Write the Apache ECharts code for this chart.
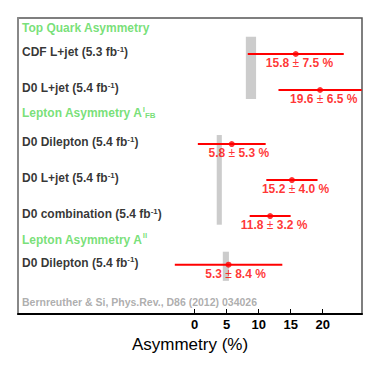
<!DOCTYPE html>
<html>
<head>
<meta charset="utf-8">
<script src="https://cdn.jsdelivr.net/npm/echarts@6/dist/echarts.min.js"></script>
<style>
  html, body { margin: 0; padding: 0; background: #fff; }
  #chart { width: 382px; height: 370px; }
</style>
</head>
<body>
<div id="chart"></div>
<script>
// measurements (one row each)
const experiments = ['CDF L+jet', 'D0 L+jet', 'D0 Dilepton', 'D0 L+jet', 'D0 combination', 'D0 Dilepton'];
const lumis = ['5.3', '5.4', '5.4', '5.4', '5.4', '5.4'];
const centralValues = [15.8, 19.6, 5.8, 15.2, 11.8, 5.3];
const errors = [7.5, 6.5, 5.3, 4.0, 3.2, 8.4];
const rowSlots = [2, 4, 7, 9, 11, 13.7];

// SM predictions (gray bands)
const bandCenters = [8.8, 3.85, 4.88];
const bandHalfWidths = [0.8, 0.4, 0.48];
const bandSlotFrom = [1.04, 6.5, 12.98];
const bandSlotTo = [4.5, 11.48, 14.6];

// section headings
const headings = ['Top Quark Asymmetry', 'Lepton Asymmetry A', 'Lepton Asymmetry A'];
const headingSup = ['', 'l', 'll'];
const headingSub = ['', 'FB', ''];
const headingSlots = [0.58, 5.3, 12.32];

const citation = 'Bernreuther & Si, Phys.Rev., D86 (2012) 034026';
const citationSlot = 15.75;

const xTicks = [0, 5, 10, 15, 20];
const xMin = -27.6, xMax = 26.15, slotMax = 16.44;

const FONT = '"Liberation Sans", Arial, Helvetica, sans-serif';
const RED = '#ff0000';
const GREEN = '#55d855';

// measure text so that the ± sits on the point
const ctx = document.createElement('canvas').getContext('2d');
function textWidth(s, weight) {
  ctx.font = weight + ' 12px ' + FONT;
  return ctx.measureText(s).width;
}

const chart = echarts.init(document.getElementById('chart'), null, { renderer: 'svg' });

const bandData = bandCenters.map((c, i) => [c - bandHalfWidths[i], c + bandHalfWidths[i], bandSlotFrom[i], bandSlotTo[i]]);
const barData = centralValues.map((v, i) => [v - errors[i], v + errors[i], rowSlots[i]]);

const pointData = centralValues.map((v, i) => {
  const left = v.toFixed(1) + ' ';
  const right = ' ' + errors[i].toFixed(1) + ' %';
  const dx = (textWidth(right, 'bold') - textWidth(left, 'bold')) / 2;
  return {
    value: [v, rowSlots[i]],
    label: { formatter: '{v|' + left + '}{pm|±}{v|' + right + '}', offset: [dx, 0] }
  };
});

const nameData = experiments.map((e, i) => ({
  value: [xMin, rowSlots[i]],
  label: { formatter: '{b|' + e + ' (' + lumis[i] + ' fb}{sup|-1}{b|)}' }
}));

const headingData = headings.map((h, i) => ({
  value: [xMin, headingSlots[i]],
  label: {
    formatter: '{h|' + h + '}' + (headingSup[i] ? '{hsup|' + headingSup[i] + '}' : '') +
      (headingSub[i] ? '{hsub|' + headingSub[i] + '}' : '')
  }
}));

const option = {
  animation: false,
  grid: { left: 18, right: 20, top: 18, bottom: 56, show: true, borderColor: '#555', borderWidth: 1.5, outerBoundsMode: 'none' },
  xAxis: {
    type: 'value', min: xMin, max: xMax,
    axisLine: { show: true, onZero: false, lineStyle: { color: '#000', width: 2 } },
    axisTick: { show: true, inside: true, length: 5, customValues: xTicks, lineStyle: { color: '#000', width: 1 } },
    axisLabel: { customValues: xTicks, color: '#000', fontWeight: 'bold', fontSize: 13, fontFamily: FONT, margin: 4 },
    splitLine: { show: false },
    name: 'Asymmetry (%)', nameLocation: 'middle', nameGap: 20,
    nameTextStyle: { fontSize: 17, color: '#000', fontFamily: FONT }
  },
  yAxis: {
    type: 'value', inverse: true, min: 0, max: slotMax,
    axisLine: { show: true, onZero: false, lineStyle: { color: '#888', width: 2 } },
    axisTick: { show: false }, axisLabel: { show: false }, splitLine: { show: false }
  },
  series: [
    {
      // SM bands
      type: 'custom', data: bandData, z: 1,
      renderItem: function (params, api) {
        const p0 = api.coord([api.value(0), api.value(2)]);
        const p1 = api.coord([api.value(1), api.value(3)]);
        return { type: 'rect', shape: { x: p0[0], y: p0[1], width: p1[0] - p0[0], height: p1[1] - p0[1] }, style: { fill: '#cccccc' } };
      }
    },
    {
      // error bars
      type: 'custom', data: barData, z: 2, clip: true,
      renderItem: function (params, api) {
        const a = api.coord([api.value(0), api.value(2)]);
        const b = api.coord([api.value(1), api.value(2)]);
        return { type: 'line', shape: { x1: a[0], y1: a[1], x2: b[0], y2: b[1] }, style: { stroke: RED, lineWidth: 2 } };
      }
    },
    {
      // central values
      type: 'scatter', data: pointData, z: 3, symbolSize: 6,
      itemStyle: { color: RED },
      label: {
        show: true, position: 'bottom', distance: 0,
        rich: {
          v: { color: RED, fontWeight: 'bold', fontSize: 12, fontFamily: FONT },
          pm: { color: RED, fontWeight: 'normal', fontSize: 12, fontFamily: FONT }
        }
      }
    },
    {
      // experiment names
      type: 'scatter', data: nameData, symbolSize: 0, silent: true,
      label: {
        show: true, position: 'right', distance: 4, offset: [0, -2],
        rich: {
          b: { color: '#000', fontWeight: 'bold', fontSize: 12, fontFamily: FONT, lineHeight: 14 },
          sup: { color: '#000', fontWeight: 'bold', fontSize: 8, fontFamily: FONT, verticalAlign: 'top', lineHeight: 8 }
        }
      }
    },
    {
      // headings
      type: 'scatter', data: headingData, symbolSize: 0, silent: true,
      label: {
        show: true, position: 'right', distance: 4,
        rich: {
          h: { color: GREEN, fontWeight: 'bold', fontSize: 12, fontFamily: FONT, lineHeight: 16 },
          hsup: { color: GREEN, fontWeight: 'bold', fontSize: 8, fontFamily: FONT, verticalAlign: 'top', lineHeight: 8 },
          hsub: { color: GREEN, fontWeight: 'bold', fontSize: 8, fontFamily: FONT, verticalAlign: 'bottom', lineHeight: 8, padding: [0, 0, 2, 0] }
        }
      }
    },
    {
      // citation
      type: 'scatter', data: [[xMin, citationSlot]], symbolSize: 0, silent: true,
      label: {
        show: true, position: 'right', distance: 4, formatter: citation,
        color: '#999', fontWeight: 'bold', fontSize: 10.5, fontFamily: FONT
      }
    }
  ]
};

chart.setOption(option);
</script>
</body>
</html>
